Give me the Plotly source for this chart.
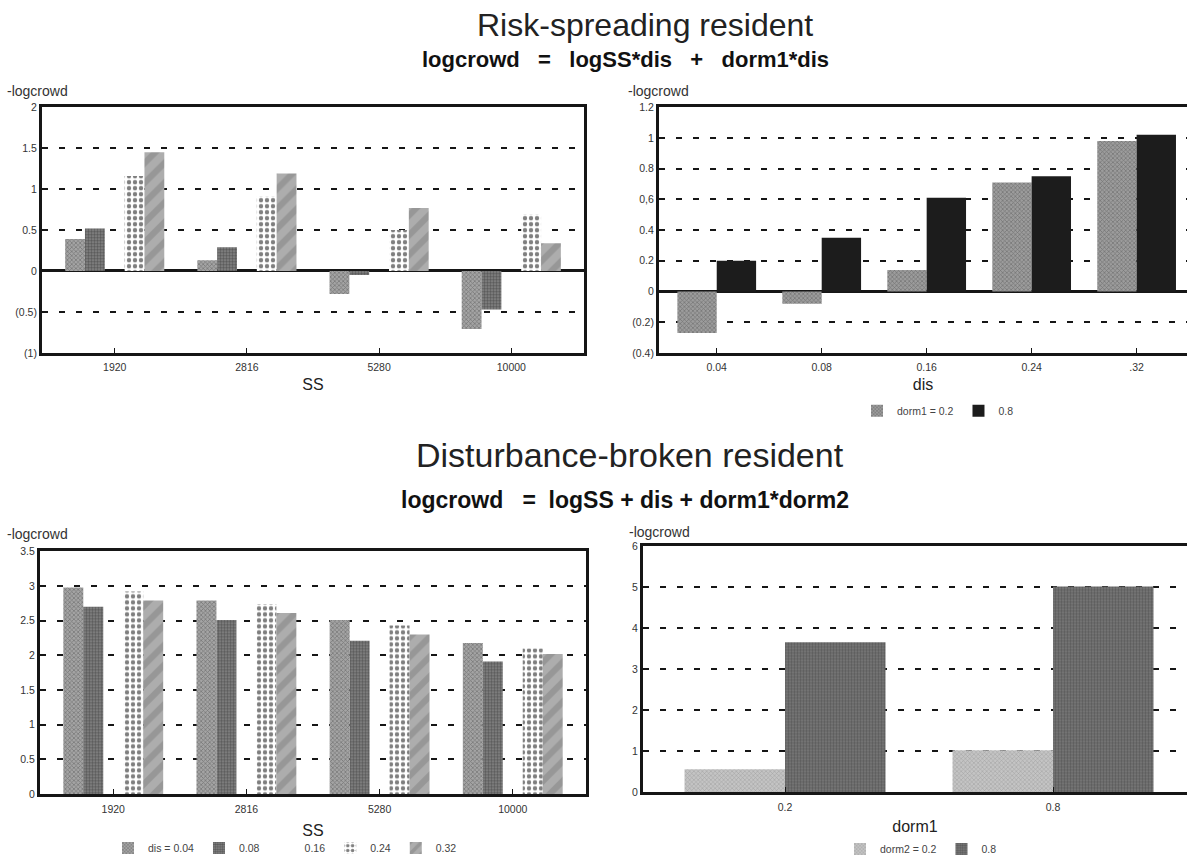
import plotly.graph_objects as go

W, H = 1187, 864

# ---- category labels ----
ss_labels = ["1920", "2816", "5280", "10000"]
dis_labels = ["0.04", "0.08", "0.16", "0.24", ".32"]
dorm1_labels = ["0.2", "0.8"]
dis_legend_names = ["dis = 0.04", "0.08", "0.16", "0.24", "0.32"]

# ---- Risk-spreading resident: -logcrowd by SS, one series per dis ----
risk_dis004 = [0.39, 0.13, -0.28, -0.71]
risk_dis008 = [0.52, 0.29, -0.05, -0.47]
risk_dis016 = [None, None, None, None]
risk_dis024 = [1.16, 0.91, 0.50, 0.69]
risk_dis032 = [1.45, 1.19, 0.77, 0.34]

# ---- Risk-spreading resident: -logcrowd by dis, one series per dorm1 ----
risk_dorm1_02 = [-0.27, -0.08, 0.14, 0.71, 0.98]
risk_dorm1_08 = [0.20, 0.35, 0.61, 0.75, 1.02]

# ---- Disturbance-broken resident: -logcrowd by SS, one series per dis ----
dist_dis004 = [2.98, 2.79, 2.51, 2.18]
dist_dis008 = [2.70, 2.51, 2.21, 1.91]
dist_dis016 = [None, None, None, None]
dist_dis024 = [2.92, 2.74, 2.43, 2.10]
dist_dis032 = [2.79, 2.61, 2.30, 2.02]

# ---- Disturbance-broken resident: -logcrowd by dorm1, one series per dorm2 ----
dist_dorm2_02 = [0.56, 1.02]
dist_dorm2_08 = [3.66, 5.02]

# ---- y-axis ticks ----
ytick_tl = [-1, -0.5, 0, 0.5, 1, 1.5, 2]
ytext_tl = ["(1)", "(0.5)", "0", "0.5", "1", "1.5", "2"]
ytick_tr = [-0.4, -0.2, 0, 0.2, 0.4, 0.6, 0.8, 1, 1.2]
ytext_tr = ["(0.4)", "(0.2)", "0", "0.2", "0.4", "0,6", "0.8", "1", "1.2"]
ytick_bl = [0, 0.5, 1, 1.5, 2, 2.5, 3, 3.5]
ytext_bl = ["0", "0.5", "1", "1.5", "2", "2.5", "3", "3.5"]
ytick_br = [0, 1, 2, 3, 4, 5, 6]
ytext_br = ["0", "1", "2", "3", "4", "5", "6"]

INK = "#161616"
FONT = "Liberation Sans"

# fill styles for the dis levels (0.16 is drawn unfilled)
dis_styles = [
    dict(color="#949494", pattern=dict(shape="x", size=3, solidity=0.4,
                                       fgcolor="#444444", bgcolor="#a4a4a4")),
    dict(color="#6a6a6a", pattern=dict(shape=".", size=3, solidity=0.55,
                                       fgcolor="#2a2a2a", bgcolor="#888888")),
    dict(color="white"),
    dict(color="white", pattern=dict(shape=".", size=6, solidity=0.42,
                                     fgcolor="#000000", bgcolor="white")),
    dict(color="#a4a4a4", pattern=dict(shape="/", size=14, solidity=0.45,
                                       fgcolor="#828282", bgcolor="#adadad")),
]
dorm1_styles = [
    dict(color="#8a8a8a", pattern=dict(shape="x", size=3, solidity=0.4,
                                       fgcolor="#474747", bgcolor="#9c9c9c")),
    dict(color="#1c1c1c"),
]
dorm2_styles = [
    dict(color="#b8b8b8", pattern=dict(shape="x", size=3, solidity=0.3,
                                       fgcolor="#767676", bgcolor="#c4c4c4")),
    dict(color="#6a6a6a", pattern=dict(shape=".", size=3, solidity=0.5,
                                       fgcolor="#383838", bgcolor="#7c7c7c")),
]

fig = go.Figure()

risk_ss_series = [risk_dis004, risk_dis008, risk_dis016, risk_dis024, risk_dis032]
dist_ss_series = [dist_dis004, dist_dis008, dist_dis016, dist_dis024, dist_dis032]

for name, vals, sty in zip(dis_legend_names, risk_ss_series, dis_styles):
    fig.add_trace(go.Bar(x=ss_labels, y=vals, name=name, xaxis="x", yaxis="y",
                         marker=dict(line=dict(width=0), **sty),
                         showlegend=False))

for name, vals, sty in zip(["dorm1 = 0.2", "0.8"], [risk_dorm1_02, risk_dorm1_08], dorm1_styles):
    fig.add_trace(go.Bar(x=dis_labels, y=vals, name=name, xaxis="x2", yaxis="y2",
                         marker=dict(line=dict(width=0), **sty), legend="legend2"))

for name, vals, sty in zip(dis_legend_names, dist_ss_series, dis_styles):
    fig.add_trace(go.Bar(x=ss_labels, y=vals, name=name, xaxis="x3", yaxis="y3",
                         marker=dict(line=dict(width=0), **sty), legend="legend"))

for name, vals, sty in zip(["dorm2 = 0.2", "0.8"], [dist_dorm2_02, dist_dorm2_08], dorm2_styles):
    fig.add_trace(go.Bar(x=dorm1_labels, y=vals, name=name, xaxis="x4", yaxis="y4",
                         marker=dict(line=dict(width=0), **sty), legend="legend3"))


def px_x(p):
    return p / W


def px_y(p):
    return 1 - p / H


def xaxis(domain, rng, anchor, title, standoff):
    return dict(domain=domain, range=rng, anchor=anchor, type="category",
                showline=True, linecolor=INK, linewidth=3, mirror=True,
                ticks="inside", ticklen=5, tickwidth=1, tickcolor=INK,
                ticklabelstandoff=3,
                tickfont=dict(size=10.5, color="#333"), showgrid=False, zeroline=False,
                title=dict(text=title, font=dict(size=16, color="#222"), standoff=standoff))


def yaxis(domain, rng, anchor, vals, texts, mirror, zero):
    return dict(domain=domain, range=rng, anchor=anchor,
                showline=True, linecolor=INK, linewidth=3, mirror=mirror,
                ticks="inside", ticklen=3, tickwidth=1, tickcolor=INK,
                tickvals=vals, ticktext=texts, tickfont=dict(size=10.5, color="#333"),
                showgrid=True, gridcolor=INK, gridwidth=1.7, griddash="6px,11px",
                zeroline=zero, zerolinecolor=INK, zerolinewidth=3)


top_dom = [px_y(353), px_y(103)]
bl_dom = [px_y(802), px_y(555)]
br_dom = [px_y(800), px_y(550)]

legend_common = dict(orientation="h", xanchor="center", yanchor="middle",
                     font=dict(size=10.5, color="#444", family=FONT),
                     bgcolor="rgba(0,0,0,0)", itemwidth=30, tracegroupgap=0)

fig.update_layout(
    width=W, height=H,
    margin=dict(l=0, r=0, t=0, b=0),
    paper_bgcolor="white", plot_bgcolor="white",
    font=dict(family=FONT, color="#222"),
    barmode="group", bargap=0.25, bargroupgap=0,
    xaxis=xaxis([px_x(42), px_x(584)], [-0.55, 3.55], "y", "SS", 7),
    yaxis=yaxis(top_dom, [-1, 2], "x", ytick_tl, ytext_tl, True, True),
    xaxis2=xaxis([px_x(659), 1.0], [-0.55, 4.48], "y2", "dis", 7),
    yaxis2=yaxis(top_dom, [-0.4, 1.2], "x2", ytick_tr, ytext_tr, False, True),
    xaxis3=xaxis([px_x(40), px_x(586)], [-0.55, 3.55], "y3", "SS", 12),
    yaxis3=yaxis(bl_dom, [0, 3.5], "x3", ytick_bl, ytext_bl, True, False),
    xaxis4=xaxis([px_x(643), 1.0], [-0.53, 1.5], "y4", "dorm1", 10),
    yaxis4=yaxis(br_dom, [0, 6], "x4", ytick_br, ytext_br, False, False),
    legend=dict(x=px_x(285), y=px_y(857), **legend_common),
    legend2=dict(x=px_x(938), y=px_y(412), **legend_common),
    legend3=dict(x=px_x(921), y=px_y(858), **legend_common),
)

nb = "\u00a0"
annotations = [
    dict(text="Risk-spreading resident", x=px_x(645), y=px_y(19),
         font=dict(size=32, color="#222")),
    dict(text=f"logcrowd{nb}{nb}{nb}={nb}{nb}{nb}logSS*dis{nb}{nb}{nb}+{nb}{nb}{nb}dorm1*dis",
         x=px_x(625), y=px_y(54), font=dict(size=22, color="#111"), bold=True),
    dict(text="Disturbance-broken resident", x=px_x(630), y=px_y(457),
         font=dict(size=34, color="#222")),
    dict(text=f"logcrowd{nb}{nb}{nb}={nb}{nb}logSS{nb}+{nb}dis{nb}+{nb}dorm1*dorm2",
         x=px_x(625), y=px_y(503), font=dict(size=23, color="#111"), bold=True),
]
for lbl_x, lbl_y in [(5, 86), (626, 86), (5, 537), (627, 535)]:
    annotations.append(dict(text="-logcrowd", x=px_x(lbl_x), y=px_y(lbl_y),
                            xanchor="left", font=dict(size=14, color="#333")))

for a in annotations:
    bold = a.pop("bold", False)
    if bold:
        a["text"] = f"<b>{a['text']}</b>"
    a.setdefault("xanchor", "center")
    fig.add_annotation(xref="paper", yref="paper", yanchor="middle",
                       showarrow=False, **a)

fig.write_html("out.html")
